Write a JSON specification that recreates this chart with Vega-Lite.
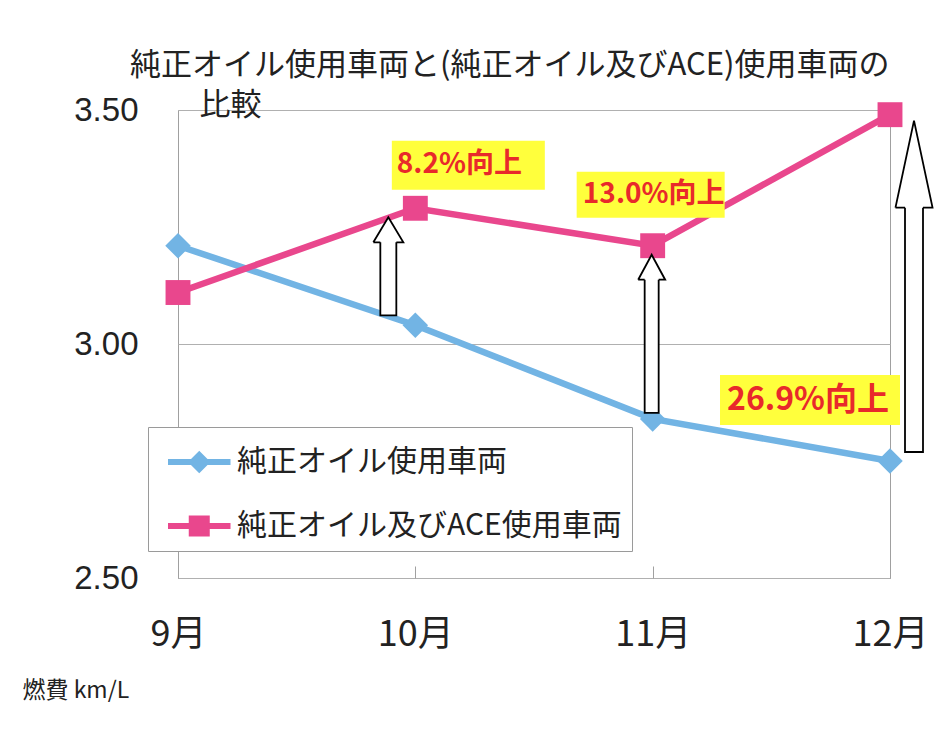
{
  "$schema": "https://vega.github.io/schema/vega-lite/v6.json",
  "width": 712,
  "height": 468,
  "autosize": "none",
  "padding": {"left": 178, "top": 110, "right": 50, "bottom": 157},
  "background": "white",
  "title": {
    "text": ["純正オイル使用車両と(純正オイル及びACE)使用車両の", "\u200b\u00a0\u00a0\u00a0\u00a0\u00a0\u00a0\u00a0\u00a0\u00a0\u00a0比較"],
    "anchor": "start",
    "frame": "group",
    "dx": -48,
    "dy": 28,
    "font": "Noto Sans CJK JP",
    "fontSize": 31,
    "fontWeight": "normal",
    "lineHeight": 40,
    "color": "#222222",
    "baseline": "top",
    "offset": 0
  },
  "datasets": {
    "series": [
      {"month": "9月", "series": "純正オイル使用車両", "value": 3.21},
      {"month": "10月", "series": "純正オイル使用車両", "value": 3.04},
      {"month": "11月", "series": "純正オイル使用車両", "value": 2.84},
      {"month": "12月", "series": "純正オイル使用車両", "value": 2.75},
      {"month": "9月", "series": "純正オイル及びACE使用車両", "value": 3.11},
      {"month": "10月", "series": "純正オイル及びACE使用車両", "value": 3.29},
      {"month": "11月", "series": "純正オイル及びACE使用車両", "value": 3.21},
      {"month": "12月", "series": "純正オイル及びACE使用車両", "value": 3.49}
    ],
    "gains": [
      {"month": "10月", "base": 3.04, "ace": 3.29, "label": "8.2%向上"},
      {"month": "11月", "base": 2.84, "ace": 3.21, "label": "13.0%向上"},
      {"month": "12月", "base": 2.75, "ace": 3.49, "label": "26.9%向上"}
    ]
  },
  "encoding": {
    "x": {
      "field": "month",
      "type": "ordinal",
      "scale": {"type": "point", "padding": 0, "domain": ["9月", "10月", "11月", "12月"]},
      "axis": {
        "title": null,
        "labelAngle": 0,
        "labelFont": "Noto Sans CJK JP",
        "labelFontSize": 36,
        "labelColor": "#222222",
        "labelPadding": 51,
        "ticks": true,
        "tickSize": -12,
        "tickColor": "#a0a0a0",
        "domain": false,
        "grid": false
      }
    },
    "y": {
      "type": "quantitative",
      "scale": {"domain": [2.5, 3.5], "nice": false, "zero": false},
      "axis": {
        "values": [2.5, 3.0, 3.5],
        "format": ".2f",
        "title": "燃費 km/L",
        "titleAngle": 0,
        "titleX": -156,
        "titleY": 580,
        "titleAlign": "left",
        "titleBaseline": "middle",
        "titleFont": "Noto Sans CJK JP",
        "titleFontSize": 23,
        "titleFontWeight": "normal",
        "titleColor": "#222222",
        "labelFont": "Liberation Sans",
        "labelFontSize": 33,
        "labelColor": "#222222",
        "labelPadding": 40,
        "ticks": false,
        "domain": false,
        "grid": true,
        "gridColor": "#b0b0b0"
      }
    }
  },
  "layer": [
    {
      "data": {"name": "series"},
      "encoding": {
        "y": {"field": "value", "type": "quantitative"},
        "color": {
          "field": "series",
          "type": "nominal",
          "scale": {"domain": ["純正オイル使用車両", "純正オイル及びACE使用車両"], "range": ["#72B4E4", "#E9478D"]},
          "legend": {
            "title": null,
            "orient": "none",
            "legendX": -30,
            "legendY": 317,
            "fillColor": "white",
            "strokeColor": "#9a9a9a",
            "padding": 10,
            "rowPadding": 24,
            "symbolSize": 2500,
            "labelFont": "Noto Sans CJK JP",
            "labelFontSize": 30,
            "labelColor": "#222222",
            "labelOffset": 29,
            "labelLimit": 600,
            "encode": {
              "symbols": {
                "update": {
                  "shape": {"signal": "datum.value === '純正オイル使用車両' ? 'M-0.6,-0.12H1.9V0.12H-0.6Z M0.65,-0.45L1.1,0L0.65,0.45L0.2,0Z' : 'M-0.6,-0.12H1.9V0.12H-0.6Z M0.23,-0.42H1.07V0.42H0.23Z'"},
                  "fill": {"scale": "color", "field": "value"},
                  "stroke": {"value": "transparent"},
                  "strokeWidth": {"value": 0},
                  "opacity": {"value": 1}
                }
              }
            }
          }
        }
      },
      "layer": [
        {"mark": {"type": "line", "strokeWidth": 6.5}},
        {
          "transform": [{"filter": "datum.series === '純正オイル使用車両'"}],
          "mark": {"type": "point", "shape": "diamond", "filled": true, "opacity": 1, "size": 650}
        },
        {
          "transform": [{"filter": "datum.series === '純正オイル及びACE使用車両'"}],
          "mark": {"type": "point", "shape": "square", "filled": true, "opacity": 1, "size": 620}
        }
      ]
    },
    {
      "data": {"name": "gains"},
      "transform": [{"filter": "datum.month === '10月'"}],
      "layer": [
        {
          "mark": {"type": "rect", "width": 16, "xOffset": -27, "yOffset": -10, "y2Offset": 28, "fill": "white", "stroke": "black", "strokeWidth": 1.8},
          "encoding": {"y": {"field": "base", "type": "quantitative"}, "y2": {"field": "ace"}}
        },
        {
          "mark": {"type": "point", "shape": "M-0.6,1L0,0L0.6,1L0.32,1M-0.32,1L-0.6,1", "size": 2500, "xOffset": -27, "yOffset": 9, "fill": "white", "filled": true, "opacity": 1, "stroke": "black", "strokeWidth": 1.8},
          "encoding": {"y": {"field": "ace", "type": "quantitative"}}
        },
        {
          "mark": {"type": "point", "shape": "M-1,-0.32H1V0.32H-1Z", "size": 23409, "xOffset": 53, "yOffset": -43, "fill": "#FFFF3C", "filled": true, "opacity": 1, "strokeWidth": 0},
          "encoding": {"y": {"field": "ace", "type": "quantitative"}}
        },
        {
          "mark": {"type": "text", "dx": 44, "dy": -43, "font": "Noto Sans CJK JP", "fontSize": 28, "fontWeight": "bold", "color": "#E8292B", "baseline": "middle", "align": "center"},
          "encoding": {"y": {"field": "ace", "type": "quantitative"}, "text": {"field": "label"}}
        }
      ]
    },
    {
      "data": {"name": "gains"},
      "transform": [{"filter": "datum.month === '11月'"}],
      "layer": [
        {
          "mark": {"type": "rect", "width": 14, "xOffset": -1, "yOffset": -6, "y2Offset": 28, "fill": "white", "stroke": "black", "strokeWidth": 1.8},
          "encoding": {"y": {"field": "base", "type": "quantitative"}, "y2": {"field": "ace"}}
        },
        {
          "mark": {"type": "point", "shape": "M-0.54,1L0,0L0.54,1L0.28,1M-0.28,1L-0.54,1", "size": 2500, "xOffset": -1, "yOffset": 9, "fill": "white", "filled": true, "opacity": 1, "stroke": "black", "strokeWidth": 1.8},
          "encoding": {"y": {"field": "ace", "type": "quantitative"}}
        },
        {
          "mark": {"type": "point", "shape": "M-1,-0.311H1V0.311H-1Z", "size": 21904, "xOffset": -2, "yOffset": -51, "fill": "#FFFF3C", "filled": true, "opacity": 1, "strokeWidth": 0},
          "encoding": {"y": {"field": "ace", "type": "quantitative"}}
        },
        {
          "mark": {"type": "text", "dx": 1, "dy": -51, "font": "Noto Sans CJK JP", "fontSize": 28, "fontWeight": "bold", "color": "#E8292B", "baseline": "middle", "align": "center"},
          "encoding": {"y": {"field": "ace", "type": "quantitative"}, "text": {"field": "label"}}
        }
      ]
    },
    {
      "data": {"name": "gains"},
      "transform": [{"filter": "datum.month === '12月'"}],
      "layer": [
        {
          "mark": {"type": "rect", "width": 18, "xOffset": 24, "yOffset": -9, "y2Offset": 87, "fill": "white", "stroke": "black", "strokeWidth": 1.8},
          "encoding": {"y": {"field": "base", "type": "quantitative"}, "y2": {"field": "ace"}}
        },
        {
          "mark": {"type": "point", "shape": "M-0.213,1L0,0L0.213,1L0.103,1M-0.103,1L-0.213,1", "size": 30276, "xOffset": 24, "yOffset": 6, "fill": "white", "filled": true, "opacity": 1, "stroke": "black", "strokeWidth": 1.8},
          "encoding": {"y": {"field": "ace", "type": "quantitative"}}
        },
        {
          "mark": {"type": "point", "shape": "M-1,-0.278H1V0.278H-1Z", "size": 32400, "xOffset": -80, "yOffset": -61, "fill": "#FFFF3C", "filled": true, "opacity": 1, "strokeWidth": 0},
          "encoding": {"y": {"field": "base", "type": "quantitative"}}
        },
        {
          "mark": {"type": "text", "dx": -82, "dy": -61, "font": "Noto Sans CJK JP", "fontSize": 32, "fontWeight": "bold", "color": "#E8292B", "baseline": "middle", "align": "center"},
          "encoding": {"y": {"field": "base", "type": "quantitative"}, "text": {"field": "label"}}
        }
      ]
    }
  ],
  "config": {
    "view": {"stroke": "#a0a0a0", "strokeWidth": 1}
  }
}
